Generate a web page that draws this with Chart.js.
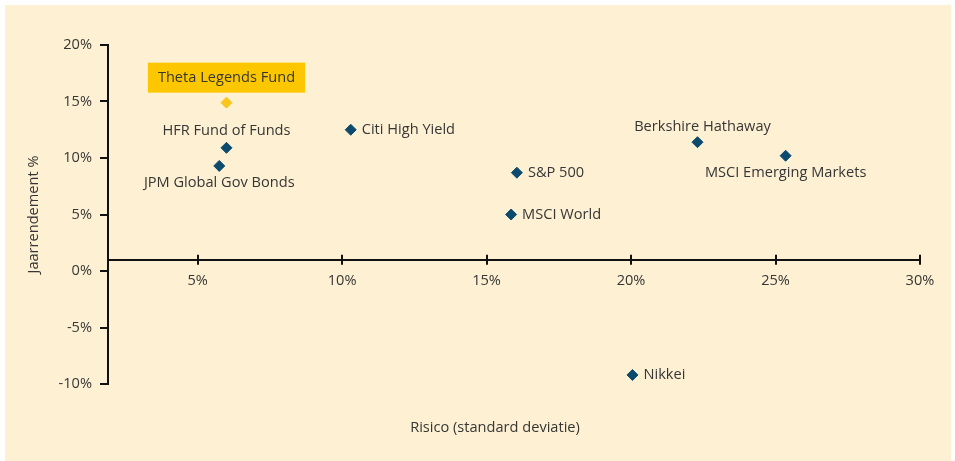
<!DOCTYPE html>
<html>
<head>
<meta charset="utf-8">
<script src="https://cdn.jsdelivr.net/npm/chart.js@4.4.0/dist/chart.umd.min.js"></script>
<style>
  html, body { margin: 0; padding: 0; background: #ffffff; }
  .panel { position: absolute; left: 5px; top: 5px; width: 946px; height: 456px; background: #fef1d3; }
  canvas { display: block; }
</style>
</head>
<body>
<div class="panel"><canvas id="scatter" width="946" height="456"></canvas></div>
<script>
// fondsen, risico (standaarddeviatie %) en jaarrendement %
const names = ['Theta Legends Fund', 'HFR Fund of Funds', 'JPM Global Gov Bonds', 'Citi High Yield',
               'S&P 500', 'MSCI World', 'Berkshire Hathaway', 'MSCI Emerging Markets', 'Nikkei'];
const risk = [6.0, 6.0, 5.75, 10.3, 16.05, 15.85, 22.3, 25.35, 20.05];
const returns = [14.9, 10.9, 9.3, 12.5, 8.7, 5.0, 11.4, 10.2, -9.2];
const highlight = 'Theta Legends Fund';
const xTicks = [5, 10, 15, 20, 25, 30];
const yTicks = [-10, -5, 0, 5, 10, 15, 20];

const FONT = '"Open Sans", sans-serif';
const FSIZE = 14.6;
const TEXT = '#363636';
const BLUE = '#0c4a6e';
const YELLOW = '#f8c51c';

// where each label sits around its point
const labelPlace = {
    'Theta Legends Fund': 'box',
    'HFR Fund of Funds': 'above',
    'JPM Global Gov Bonds': 'below',
    'Citi High Yield': 'right',
    'S&P 500': 'right',
    'MSCI World': 'right',
    'Berkshire Hathaway': 'aboveRight',
    'MSCI Emerging Markets': 'below',
    'Nikkei': 'right'
};

function pointsFor(test) {
    const pts = [];
    names.forEach((n, i) => {
        if (test(n)) pts.push({ x: risk[i], y: returns[i], name: n });
    });
    return pts;
}

const pointLabels = {
    id: 'pointLabels',
    afterDatasetsDraw(chart) {
        const ctx = chart.ctx;
        ctx.save();
        ctx.font = FSIZE + 'px ' + FONT;
        ctx.textBaseline = 'middle';
        chart.data.datasets.forEach((ds, di) => {
            chart.getDatasetMeta(di).data.forEach((el, i) => {
                const name = ds.data[i].name;
                const place = labelPlace[name];
                const w = ctx.measureText(name).width;
                let tx = el.x, ty = el.y;
                ctx.textAlign = 'center';
                if (place === 'right') { ctx.textAlign = 'left'; tx = el.x + 11; }
                else if (place === 'above') { ty = el.y - 17; }
                else if (place === 'below') { ty = el.y + 17; }
                else if (place === 'aboveRight') { tx = el.x + 5; ty = el.y - 15; }
                else if (place === 'box') {
                    ty = el.y - 25;
                    ctx.fillStyle = '#fdc700';
                    ctx.fillRect(tx - w / 2 - 10, ty - 15, w + 20, 30);
                }
                ctx.fillStyle = TEXT;
                ctx.fillText(name, tx, ty);
            });
        });
        ctx.restore();
    }
};

// x axis tick marks cross the axis line, and the x title sits at the bottom
const axisExtras = {
    id: 'axisExtras',
    afterDraw(chart) {
        const ctx = chart.ctx;
        const xs = chart.scales.x;
        const y0 = chart.scales.y.getPixelForValue(1);
        ctx.save();
        ctx.strokeStyle = '#111111';
        ctx.lineWidth = 2;
        xs.ticks.forEach(t => {
            const px = Math.round(xs.getPixelForValue(t.value));
            ctx.beginPath();
            ctx.moveTo(px, y0 - 5);
            ctx.lineTo(px, y0 + 5);
            ctx.stroke();
        });
        ctx.font = FSIZE + 'px ' + FONT;
        ctx.fillStyle = TEXT;
        ctx.textAlign = 'center';
        ctx.textBaseline = 'middle';
        ctx.fillText('Risico (standard deviatie)', (chart.chartArea.left + chart.chartArea.right) / 2 - 19, 423);
        ctx.restore();
    }
};

new Chart(document.getElementById('scatter'), {
    type: 'scatter',
    data: {
        datasets: [
            {
                data: pointsFor(n => n === highlight),
                backgroundColor: YELLOW,
                borderColor: YELLOW,
                pointStyle: 'rectRot',
                pointRadius: 5.5,
                pointHoverRadius: 5.5
            },
            {
                data: pointsFor(n => n !== highlight),
                backgroundColor: BLUE,
                borderColor: BLUE,
                pointStyle: 'rectRot',
                pointRadius: 5.5,
                pointHoverRadius: 5.5
            }
        ]
    },
    options: {
        responsive: false,
        animation: false,
        layout: { padding: { top: 40, right: 31, bottom: 77, left: 0 } },
        plugins: {
            legend: { display: false },
            tooltip: { enabled: false }
        },
        scales: {
            x: {
                type: 'linear',
                position: { y: 1 },
                min: 1.9,
                max: 30,
                afterBuildTicks: scale => { scale.ticks = xTicks.map(v => ({ value: v })); },
                border: { display: true, color: '#111111', width: 2 },
                grid: { display: true, drawOnChartArea: false, drawTicks: false },
                ticks: {
                    color: TEXT,
                    font: { family: FONT, size: FSIZE },
                    padding: 12,
                    maxRotation: 0,
                    callback: v => v + '%'
                }
            },
            y: {
                type: 'linear',
                position: 'left',
                min: -10,
                max: 20,
                afterBuildTicks: scale => { scale.ticks = yTicks.map(v => ({ value: v })); },
                afterFit: scale => { scale.width = 103; },
                border: { display: true, color: '#111111', width: 2 },
                grid: { display: true, drawOnChartArea: false, drawTicks: true, tickLength: 8, color: '#111111', lineWidth: 2 },
                ticks: {
                    color: TEXT,
                    font: { family: FONT, size: FSIZE },
                    padding: 8,
                    callback: v => v + '%'
                },
                title: {
                    display: true,
                    text: 'Jaarrendement %',
                    color: TEXT,
                    font: { family: FONT, size: FSIZE },
                    padding: { top: 20, bottom: 0 }
                }
            }
        }
    },
    plugins: [pointLabels, axisExtras]
});
</script>
</body>
</html>
